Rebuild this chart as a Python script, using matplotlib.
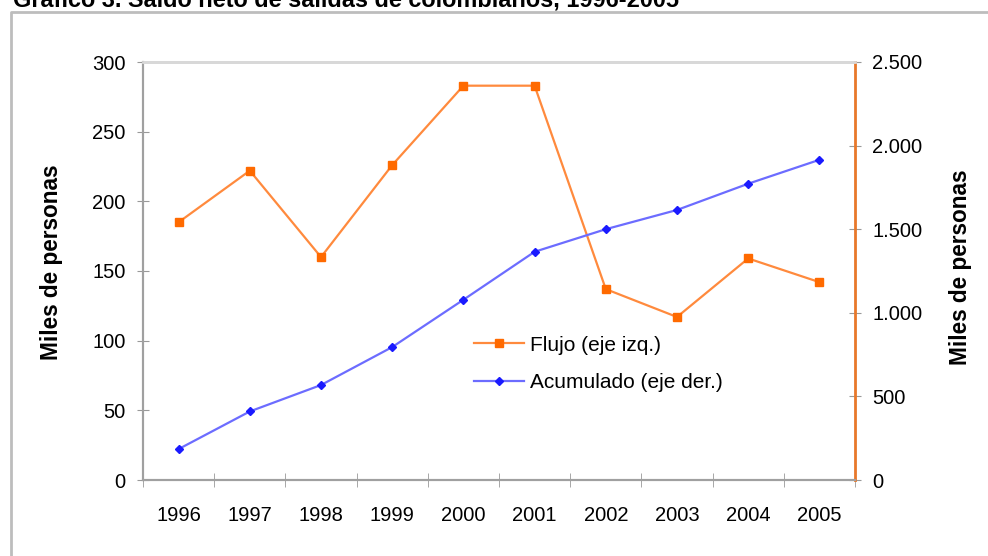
import matplotlib
matplotlib.use('Agg')
import matplotlib.pyplot as plt
from matplotlib.lines import Line2D
from matplotlib.ticker import FuncFormatter

plt.rcParams['font.family'] = ['Liberation Sans', 'DejaVu Sans']

years = ['1996', '1997', '1998', '1999', '2000', '2001', '2002', '2003', '2004', '2005']
flujo = [185, 222, 160, 226, 283, 283, 137, 117, 159, 142]            # eje izq.
acumulado = [185, 410, 568, 795, 1078, 1365, 1500, 1615, 1772, 1915]  # eje der.

W, H = 988, 556
fig = plt.figure(figsize=(W / 100, H / 100), dpi=100)

# frame around the chart (only top and left visible)
fig.add_artist(Line2D([11 / W, 11 / W, 1.0], [0.0, 1 - 12 / H, 1 - 12 / H],
                      transform=fig.transFigure, color='#bdbdbd', lw=2))
# title, partly cut by the top edge
fig.text(13 / W, 1 - 7 / H, 'Gráfico 3. Saldo neto de salidas de colombianos, 1996-2005',
         fontsize=16.9, fontweight='bold', va='baseline', ha='left')

ax = fig.add_axes([143 / W, 76 / H, 712 / W, 418 / H])
ax2 = ax.twinx()

x = list(range(len(years)))
ax.plot(x, flujo, color='#ff8a3d', lw=1.6, marker='s', ms=5.5,
        mfc='#ff6a00', mec='#ff6a00', label='Flujo (eje izq.)')
ax2.plot(x, acumulado, color='#6c6cff', lw=1.6, marker='D', ms=4.5,
         mfc='#1a1aff', mec='#1a1aff', label='Acumulado (eje der.)')

ax.set_xlim(-0.5, len(years) - 0.5)
ax.set_ylim(0, 300)
ax.set_yticks(range(0, 301, 50))
ax2.set_ylim(0, 2500)
ax2.set_yticks(range(0, 2501, 500))
ax2.yaxis.set_major_formatter(FuncFormatter(lambda v, p: f'{int(v):,}'.replace(',', '.')))

ax.set_xticks(x)
ax.set_xticklabels(years)
ax.set_xticks([i - 0.5 for i in range(len(years) + 1)], minor=True)
ax.tick_params(axis='x', which='major', length=0, pad=19, labelsize=14.5)
ax.tick_params(axis='x', which='minor', direction='inout', length=10, color='#999999')
ax.tick_params(axis='y', direction='inout', length=9, color='#999999', pad=8, labelsize=14.5)
ax2.tick_params(axis='y', direction='inout', length=9, color='#999999', pad=8, labelsize=14.5)

for a in (ax, ax2):
    for s in a.spines.values():
        s.set_color('#a0a0a0')
        s.set_linewidth(1.5)
    a.spines['top'].set_color('#d8d8d8')
    a.spines['top'].set_linewidth(2)
ax2.spines['right'].set_color('#e8782a')
ax2.spines['right'].set_linewidth(2)
ax.spines['right'].set_visible(False)

ax.set_ylabel('Miles de personas', fontsize=16.3, fontweight='bold')
ax2.set_ylabel('Miles de personas', fontsize=16.3, fontweight='bold')
ax.yaxis.set_label_coords(-(143 - 63) / 712, 0.522)
ax2.yaxis.set_label_coords((949 - 143) / 712, 0.51)

h1, l1 = ax.get_legend_handles_labels()
h2, l2 = ax2.get_legend_handles_labels()
ax2.legend(h1 + h2, l1 + l2, loc='center left', frameon=False, fontsize=15,
           handlelength=2.4, handletextpad=0.3, labelspacing=0.9,
           bbox_to_anchor=(455 / W, (556 - 364) / H), bbox_transform=fig.transFigure)

fig.savefig('out.png', dpi=100)
